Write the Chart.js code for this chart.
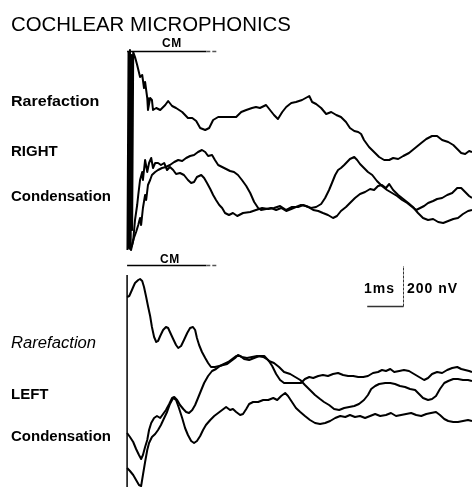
<!DOCTYPE html>
<html>
  <head>
    <title>Cochlear Microphonics</title>
    <script src="https://cdn.jsdelivr.net/npm/chart.js"></script>
    <style>
      body { margin: 0; background: #fff; }
      #wrap { position: relative; width: 472px; height: 487px; overflow: hidden; }
      #cmChart { position: absolute; left: 0; top: 0; }
      .t {
        position: absolute;
        font-family: 'Liberation Sans', Arial, sans-serif;
        line-height: 1;
        white-space: nowrap;
        color: #000;
        transform-origin: 0 0;
      }
      .lab { font-size: 15px; font-weight: bold; }
      .cm { font-size: 12px; font-weight: bold; letter-spacing: 0.5px; }
    </style>
  </head>
  <body>
    <div id="wrap">
      <canvas id="cmChart" width="472" height="487"></canvas>
      <div class="t" style="left:11px; top:14px; font-size:20px; transform:scaleX(1.02);">COCHLEAR MICROPHONICS</div>
      <div class="t cm" style="left:162px; top:37px;">CM</div>
      <div class="t cm" style="left:160px; top:253px;">CM</div>
      <div class="t lab" style="left:11px; top:93px; transform:scaleX(1.07);">Rarefaction</div>
      <div class="t lab" style="left:11px; top:143px;">RIGHT</div>
      <div class="t lab" style="left:11px; top:188px;">Condensation</div>
      <div class="t" style="left:11px; top:335px; font-size:16px; font-style:italic; transform:scaleX(1.04);">Rarefaction</div>
      <div class="t lab" style="left:11px; top:386px;">LEFT</div>
      <div class="t lab" style="left:11px; top:428px;">Condensation</div>
      <div class="t" style="left:364px; top:281px; font-size:14px; font-weight:bold; letter-spacing:1px;">1ms</div>
      <div class="t" style="left:407px; top:281px; font-size:14px; font-weight:bold; letter-spacing:1px;">200 nV</div>
    </div>

    <script>
      // time in ms after stimulus onset, amplitude in nV (relative to each trace's own baseline)
      const rightRarefaction = [
        [0.01,-600],[0.04,390],[0.06,-590],[0.08,400],[0.10,-575],[0.12,375],[0.14,-500],[0.17,390],
        [0.22,365],[0.28,325],[0.36,265],[0.42,275],[0.47,210],[0.5,240],[0.56,160],[0.58,100],
        [0.64,160],[0.69,150],[0.72,100],[0.81,110],[0.92,100],[1.06,125],[1.14,145],[1.25,120],
        [1.36,110],[1.53,90],[1.69,60],[1.81,60],[1.92,45],[2.03,10],[2.17,0],[2.28,10],[2.39,50],
        [2.53,65],[2.72,65],[3.03,65],[3.17,90],[3.31,100],[3.47,110],[3.58,115],[3.69,110],
        [3.86,125],[3.97,100],[4.08,75],[4.19,55],[4.31,90],[4.42,115],[4.56,135],[4.69,140],
        [4.86,150],[5.06,170],[5.14,140],[5.25,130],[5.39,110],[5.53,80],[5.67,90],[5.81,75],
        [5.94,65],[6.08,40],[6.19,10],[6.31,-5],[6.42,-10],[6.5,-20],[6.58,-50],[6.72,-85],
        [6.86,-110],[7.0,-135],[7.14,-150],[7.28,-150],[7.39,-140],[7.53,-145],[7.67,-130],
        [7.83,-115],[8.0,-90],[8.17,-65],[8.31,-45],[8.47,-30],[8.61,-30],[8.75,-50],[8.92,-60],
        [9.06,-75],[9.17,-95],[9.28,-115],[9.39,-120],[9.5,-105],[9.58,-110]
      ];
      const rightCondensationA = [
        [0.04,-200],[0.11,-250],[0.17,-200],[0.22,-100],[0.28,-25],[0.31,25],[0.36,100],[0.42,140],
        [0.44,100],[0.5,200],[0.56,140],[0.61,185],[0.67,210],[0.72,160],[0.78,185],[0.86,185],
        [0.94,175],[1.03,185],[1.11,150],[1.19,165],[1.28,150],[1.36,130],[1.47,135],[1.58,125],
        [1.69,100],[1.78,85],[1.86,90],[1.94,115],[2.06,125],[2.14,110],[2.22,85],[2.31,55],
        [2.39,25],[2.47,0],[2.56,-25],[2.64,-40],[2.72,-65],[2.83,-75],[2.94,-65],[3.06,-80],
        [3.22,-65],[3.42,-60],[3.58,-50],[3.75,-40],[3.92,-45],[4.08,-40],[4.25,-30],[4.42,-50],
        [4.58,-35],[4.75,-35],[4.89,-25],[5.03,-35],[5.17,-50],[5.31,-55],[5.44,-65],[5.58,-75],
        [5.72,-90],[5.83,-80],[5.94,-55],[6.08,-35],[6.19,-15],[6.33,10],[6.47,30],[6.61,40],
        [6.75,55],[6.86,50],[6.97,70],[7.08,75],[7.19,60],[7.28,80],[7.39,50],[7.53,25],[7.67,5],
        [7.81,-15],[7.94,-35],[8.08,-65],[8.22,-90],[8.36,-100],[8.5,-95],[8.64,-110],[8.78,-115],
        [8.92,-105],[9.06,-95],[9.19,-90],[9.33,-70],[9.47,-55],[9.58,-50]
      ];
      const rightCondensationB = [
        [0.08,-250],[0.14,-225],[0.19,-190],[0.25,-160],[0.31,-125],[0.36,-90],[0.39,-125],
        [0.44,-40],[0.5,25],[0.53,0],[0.58,75],[0.64,100],[0.69,125],[0.78,140],[0.86,150],
        [0.97,160],[1.08,165],[1.19,175],[1.31,190],[1.42,200],[1.53,195],[1.64,210],[1.75,220],
        [1.86,225],[1.97,240],[2.08,250],[2.17,240],[2.25,220],[2.36,225],[2.44,200],[2.53,175],
        [2.64,165],[2.75,155],[2.86,145],[2.97,140],[3.08,125],[3.19,100],[3.31,70],[3.42,35],
        [3.53,-10],[3.64,-40],[3.72,-50],[3.86,-45],[4.0,-40],[4.14,-50],[4.28,-40],[4.42,-55],
        [4.56,-45],[4.69,-35],[4.83,-25],[4.97,-30],[5.11,-40],[5.25,-35],[5.39,-20],[5.5,10],
        [5.61,50],[5.69,85],[5.78,125],[5.86,150],[5.94,160],[6.03,175],[6.11,190],[6.19,205],
        [6.31,215],[6.39,200],[6.47,180],[6.58,160],[6.69,140],[6.81,125],[6.94,95],[7.08,70],
        [7.22,50],[7.36,35],[7.5,20],[7.64,0],[7.78,-15],[7.92,-35],[8.03,-50],[8.14,-40],
        [8.25,-30],[8.36,-15],[8.5,-5],[8.61,5],[8.75,10],[8.89,25],[9.03,35],[9.17,60],[9.28,60],
        [9.39,40],[9.5,20],[9.58,10]
      ];
      const leftRarefaction = [
        [0,365],[0.06,370],[0.11,390],[0.17,415],[0.22,435],[0.31,450],[0.36,455],[0.42,445],
        [0.47,415],[0.53,365],[0.58,320],[0.64,270],[0.69,215],[0.75,165],[0.81,140],[0.86,145],
        [0.92,170],[1.0,200],[1.08,215],[1.14,210],[1.19,190],[1.28,155],[1.36,125],[1.42,110],
        [1.5,120],[1.58,150],[1.67,185],[1.75,210],[1.83,215],[1.89,200],[1.94,160],[2.0,125],
        [2.08,90],[2.17,60],[2.25,35],[2.33,15],[2.44,15],[2.56,20],[2.67,25],[2.78,30],[2.89,45],
        [3.0,60],[3.08,75],[3.19,65],[3.33,60],[3.47,65],[3.61,70],[3.78,65],[3.92,50],[4.03,20],
        [4.14,-20],[4.25,-50],[4.36,-65],[4.53,-65],[4.69,-65],[4.83,-65],[4.94,-45],[5.06,-35],
        [5.17,-40],[5.31,-30],[5.44,-25],[5.58,-30],[5.72,-20],[5.86,-15],[6.0,-25],[6.14,-30],
        [6.28,-30],[6.42,-35],[6.56,-35],[6.69,-30],[6.83,-15],[6.97,-10],[7.08,0],[7.19,-5],
        [7.31,5],[7.42,-10],[7.56,-5],[7.69,0],[7.83,-5],[7.97,-20],[8.11,-35],[8.25,-50],
        [8.36,-40],[8.47,-20],[8.61,-10],[8.75,-15],[8.89,0],[9.03,10],[9.17,15],[9.28,5],
        [9.39,0],[9.5,-5],[9.58,-10]
      ];
      const leftCondensationA = [
        [0,-215],[0.08,-235],[0.17,-260],[0.25,-295],[0.33,-325],[0.39,-345],[0.44,-325],
        [0.5,-285],[0.56,-250],[0.61,-200],[0.67,-165],[0.75,-140],[0.83,-130],[0.92,-140],
        [1.0,-120],[1.08,-100],[1.17,-70],[1.25,-40],[1.31,-35],[1.39,-50],[1.47,-75],[1.56,-95],
        [1.64,-110],[1.72,-115],[1.81,-100],[1.89,-75],[1.97,-40],[2.06,0],[2.14,35],[2.25,70],
        [2.36,95],[2.47,105],[2.58,120],[2.69,130],[2.81,140],[2.92,155],[3.03,170],[3.14,170],
        [3.25,155],[3.39,150],[3.53,160],[3.67,170],[3.81,170],[3.94,145],[4.08,135],[4.22,115],
        [4.36,90],[4.53,80],[4.67,65],[4.81,50],[4.94,25],[5.08,0],[5.22,-25],[5.36,-45],
        [5.47,-60],[5.61,-75],[5.75,-95],[5.89,-100],[6.03,-90],[6.17,-85],[6.31,-80],[6.44,-70],
        [6.58,-50],[6.69,-25],[6.78,5],[6.89,20],[7.0,30],[7.17,35],[7.31,35],[7.44,30],
        [7.58,20],[7.72,15],[7.86,5],[8.0,0],[8.11,-20],[8.22,-40],[8.36,-50],[8.47,-45],
        [8.58,-30],[8.69,5],[8.81,35],[8.92,45],[9.06,55],[9.19,55],[9.33,50],[9.47,50],[9.58,45]
      ];
      const leftCondensationB = [
        [0,-265],[0.08,-280],[0.17,-300],[0.25,-325],[0.33,-350],[0.39,-355],[0.44,-300],
        [0.5,-235],[0.56,-175],[0.61,-140],[0.69,-110],[0.78,-95],[0.86,-75],[0.94,-50],
        [1.03,-15],[1.11,15],[1.19,55],[1.28,85],[1.36,75],[1.44,35],[1.53,-15],[1.61,-65],
        [1.69,-100],[1.78,-130],[1.86,-140],[1.94,-130],[2.03,-105],[2.11,-75],[2.19,-50],
        [2.31,-25],[2.42,-5],[2.53,10],[2.64,25],[2.75,40],[2.86,25],[2.94,30],[3.03,15],[3.14,0],
        [3.22,5],[3.31,30],[3.39,55],[3.5,65],[3.64,65],[3.78,75],[3.92,75],[4.06,85],[4.17,75],
        [4.28,95],[4.39,110],[4.47,95],[4.58,65],[4.69,35],[4.81,15],[4.94,-5],[5.08,-25],
        [5.22,-40],[5.36,-45],[5.5,-40],[5.64,-30],[5.78,-15],[5.92,-5],[6.06,-10],[6.19,0],
        [6.33,-10],[6.47,-5],[6.61,-15],[6.75,-5],[6.89,5],[7.03,-5],[7.19,0],[7.33,10],
        [7.47,-5],[7.61,0],[7.75,5],[7.89,10],[8.03,0],[8.17,-5],[8.31,5],[8.44,10],[8.58,15],
        [8.69,0],[8.81,-20],[8.92,-30],[9.06,-35],[9.19,-35],[9.33,-30],[9.47,-25],[9.58,-30]
      ];
      // vertical offsets (nV) that stack the traces on the page
      const traceOffsets = [1785, 1435, 1435, 585, 485, 360];
      const traces = [rightRarefaction, rightCondensationA, rightCondensationB,
                      leftRarefaction, leftCondensationA, leftCondensationB];
      // left-panel time-zero marker, nV
      const leftAxisTop = 1060;
      // CM window (ms) and the levels of its bars (nV)
      const cmWindow = [0, 2.2, 2.5];
      const cmLevels = [2180, 1108];
      // calibration: 1 ms / 200 nV, corner at 7.67 ms, 905 nV
      const calib = { t: 7.67, v: 905, ms: 1, nv: 200 };

      const datasets = traces.map((tr, i) => ({
        data: tr.map(([t, v]) => ({ x: t, y: v + traceOffsets[i] })),
        borderColor: '#000',
        backgroundColor: '#000',
        borderWidth: 2,
      }));
      datasets.push({
        data: [{ x: 0, y: 0 }, { x: 0, y: leftAxisTop }],
        borderColor: '#000',
        backgroundColor: '#000',
        borderWidth: 1.5,
      });

      const annotations = {
        id: 'annotations',
        afterDatasetsDraw(chart) {
          const { ctx, scales: { x, y } } = chart;
          ctx.save();
          ctx.strokeStyle = '#000';
          ctx.lineWidth = 1.3;
          cmLevels.forEach((lv) => {
            const py = Math.round(y.getPixelForValue(lv)) + 0.5;
            ctx.beginPath();
            ctx.moveTo(x.getPixelForValue(cmWindow[0]), py);
            ctx.lineTo(x.getPixelForValue(cmWindow[1]), py);
            ctx.stroke();
            ctx.setLineDash([4, 2]);
            ctx.strokeStyle = '#555';
            ctx.beginPath();
            ctx.moveTo(x.getPixelForValue(cmWindow[1]), py);
            ctx.lineTo(x.getPixelForValue(cmWindow[2]), py);
            ctx.stroke();
            ctx.setLineDash([]);
            ctx.strokeStyle = '#000';
          });
          const cx = Math.round(x.getPixelForValue(calib.t)) + 0.5;
          const cy = Math.round(y.getPixelForValue(calib.v)) + 0.5;
          ctx.strokeStyle = '#333';
          ctx.beginPath();
          ctx.moveTo(x.getPixelForValue(calib.t - calib.ms), cy);
          ctx.lineTo(cx, cy);
          ctx.stroke();
          ctx.lineWidth = 1;
          ctx.setLineDash([3, 1]);
          ctx.beginPath();
          ctx.moveTo(cx, cy);
          ctx.lineTo(cx, y.getPixelForValue(calib.v + calib.nv));
          ctx.stroke();
          ctx.restore();
        },
      };

      const ctx = document.getElementById('cmChart').getContext('2d');
      const chart = new Chart(ctx, {
        type: 'scatter',
        data: { datasets: datasets },
        plugins: [annotations],
        options: {
          responsive: false,
          animation: false,
          devicePixelRatio: 1,
          layout: { padding: 0 },
          datasets: {
            scatter: {
              showLine: true,
              pointRadius: 0,
              pointHoverRadius: 0,
              tension: 0,
              borderJoinStyle: 'round',
              clip: false,
            },
          },
          plugins: { legend: { display: false }, tooltip: { enabled: false } },
          scales: {
            x: { type: 'linear', display: false, min: -3.53, max: 9.58 },
            y: { type: 'linear', display: false, min: 0, max: 2435 },
          },
        },
      });
    </script>
  </body>
</html>
